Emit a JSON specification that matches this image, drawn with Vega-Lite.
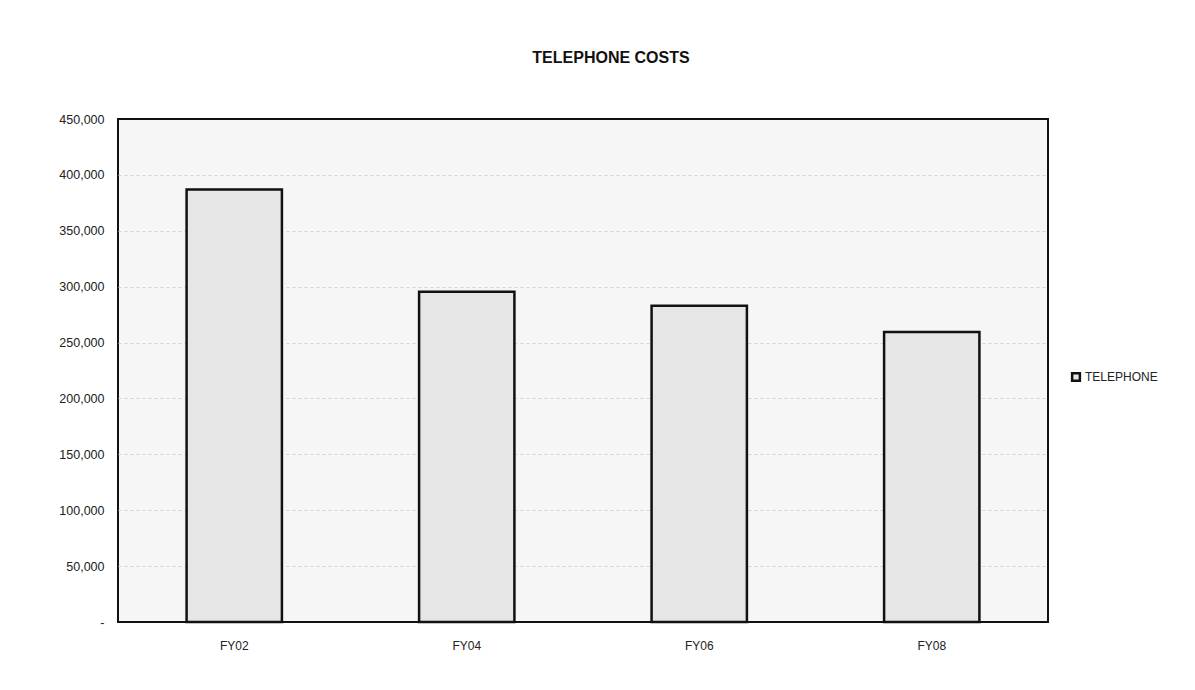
{
  "$schema": "https://vega.github.io/schema/vega-lite/v6.json",
  "width": 930,
  "height": 503,
  "autosize": {"type": "none"},
  "padding": {"left": 118, "top": 119, "right": 147, "bottom": 68},
  "background": "#ffffff",
  "title": {
    "text": "TELEPHONE COSTS",
    "font": "Liberation Sans",
    "fontSize": 16,
    "fontWeight": "bold",
    "color": "#111111",
    "anchor": "middle",
    "dx": 28,
    "offset": 47
  },
  "data": {
    "values": [
      {"year": "FY02", "series": "TELEPHONE", "cost": 387000},
      {"year": "FY04", "series": "TELEPHONE", "cost": 295500},
      {"year": "FY06", "series": "TELEPHONE", "cost": 283000},
      {"year": "FY08", "series": "TELEPHONE", "cost": 259500}
    ]
  },
  "mark": {"type": "bar", "stroke": "#111111", "strokeWidth": 2.5},
  "encoding": {
    "x": {
      "field": "year",
      "type": "nominal",
      "sort": null,
      "scale": {"paddingInner": 0.59, "paddingOuter": 0.295},
      "axis": {
        "title": null,
        "labelAngle": 0,
        "labelFont": "Liberation Sans",
        "labelFontSize": 12,
        "labelColor": "#222222",
        "labelPadding": 18,
        "ticks": false,
        "domain": false,
        "grid": false
      }
    },
    "y": {
      "field": "cost",
      "type": "quantitative",
      "scale": {"domain": [0, 450000], "nice": false},
      "axis": {
        "title": null,
        "values": [0, 50000, 100000, 150000, 200000, 250000, 300000, 350000, 400000, 450000],
        "labelExpr": "datum.value == 0 ? '-' : format(datum.value, ',')",
        "labelFont": "Liberation Sans",
        "labelFontSize": 12.5,
        "labelColor": "#222222",
        "labelPadding": 14,
        "ticks": false,
        "domain": false,
        "grid": true,
        "gridColor": "#d4d4d4",
        "gridDash": [3, 3],
        "gridWidth": 1,
        "gridOpacity": {"condition": {"test": "datum.value == 0 || datum.value == 450000", "value": 0}, "value": 1}
      }
    },
    "color": {
      "field": "series",
      "type": "nominal",
      "scale": {"range": ["#e6e6e6"]},
      "legend": {
        "title": null,
        "orient": "none",
        "legendX": 952,
        "legendY": 252,
        "symbolType": "square",
        "symbolSize": 60,
        "symbolStrokeColor": "#111111",
        "symbolStrokeWidth": 2.5,
        "labelFont": "Liberation Sans",
        "labelFontSize": 12,
        "labelColor": "#222222",
        "labelOffset": 3
      }
    }
  },
  "config": {
    "view": {"stroke": "#111111", "strokeWidth": 2, "fill": "#f6f6f6"}
  }
}
